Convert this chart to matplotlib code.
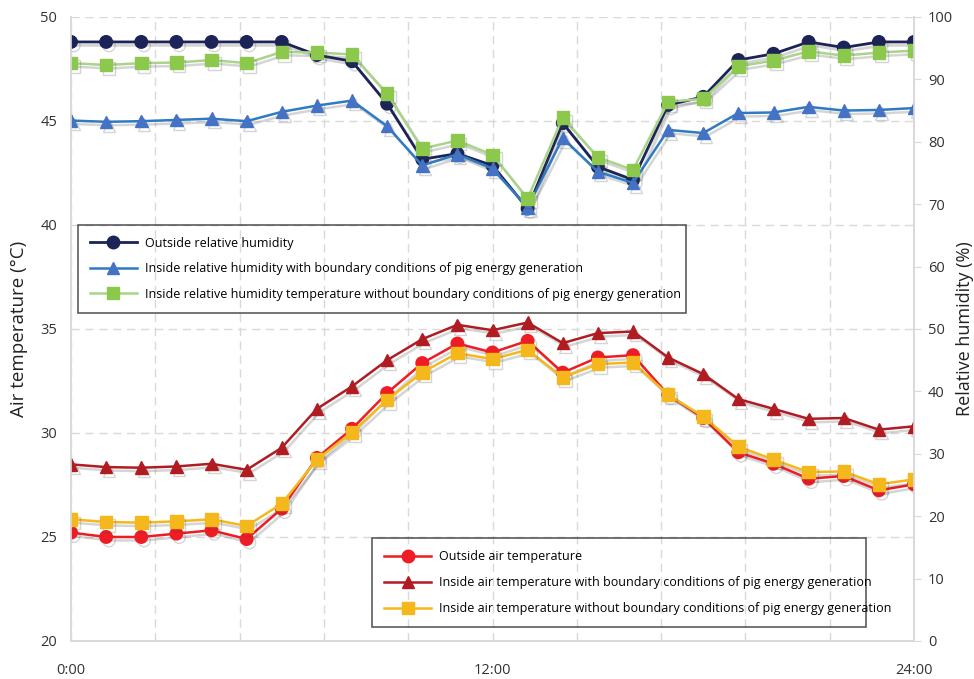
import numpy as np
import matplotlib
matplotlib.use("Agg")
import matplotlib.pyplot as plt
import matplotlib.patheffects as pe

plt.rcParams['font.family'] = ['Open Sans', 'DejaVu Sans']

# hourly readings over one day
hours = list(range(25))

rh_outside = [96.0, 96.0, 96.0, 96.0, 96.0, 96.0, 96.0, 93.9, 92.9, 86.1, 77.2, 78.1, 76.2,
              69.3, 83.0, 76.0, 73.9, 85.9, 87.2, 93.1, 94.1, 96.0, 95.1, 96.0, 96.0]
rh_inside_with = [83.4, 83.2, 83.3, 83.5, 83.7, 83.3, 84.8, 85.8, 86.6, 82.5, 76.2, 78.0, 75.7,
                  69.5, 80.6, 75.2, 73.4, 81.9, 81.4, 84.6, 84.7, 85.6, 85.0, 85.1, 85.4]
rh_inside_without = [92.6, 92.3, 92.6, 92.7, 93.1, 92.6, 94.4, 94.3, 94.0, 87.7, 78.9, 80.2, 77.9,
                     70.9, 83.9, 77.5, 75.5, 86.4, 86.9, 92.1, 93.0, 94.5, 93.8, 94.3, 94.6]

t_outside = [25.21, 25.0, 25.0, 25.16, 25.32, 24.9, 26.36, 28.8, 30.2, 31.92, 33.36, 34.3, 33.87,
             34.43, 32.9, 33.63, 33.74, 31.84, 30.72, 29.07, 28.52, 27.8, 27.93, 27.24, 27.53]
t_inside_with = [28.49, 28.36, 28.33, 28.39, 28.52, 28.23, 29.29, 31.16, 32.24, 33.5, 34.51, 35.2, 34.94,
                 35.31, 34.32, 34.8, 34.88, 33.63, 32.83, 31.63, 31.16, 30.68, 30.72, 30.16, 30.32]
t_inside_without = [25.85, 25.72, 25.69, 25.75, 25.85, 25.53, 26.6, 28.72, 30.03, 31.59, 32.91, 33.84, 33.55,
                    34.0, 32.67, 33.31, 33.39, 31.84, 30.79, 29.35, 28.72, 28.12, 28.15, 27.53, 27.77]

x_ticklabels = ['0:00', '12:00', '24:00']

grid_col = '#d9d9d9'
text_col = '#333333'

fig = plt.figure(figsize=(9.74, 6.79), dpi=100)
ax = fig.add_axes([0.0729, 0.056, 0.8655, 0.919])
ax2 = ax.twinx()

shadow = [pe.SimpleLineShadow(offset=(2, -2.5), shadow_color='#444444', alpha=0.22), pe.Normal()]

# temperature series on the left axis
ax.plot(hours, t_outside, color='#ee1c24', lw=1.8, marker='o', ms=9,
        label='Outside air temperature', path_effects=shadow, zorder=3)
ax.plot(hours, t_inside_with, color='#b01c22', lw=1.8, marker='^', ms=9,
        label='Inside air temperature with boundary conditions of pig energy generation',
        path_effects=shadow, zorder=3)
ax.plot(hours, t_inside_without, color='#f5b81c', lw=1.8, marker='s', ms=9,
        label='Inside air temperature without boundary conditions of pig energy generation',
        path_effects=shadow, zorder=3)

# humidity series on the right axis
ax2.plot(hours, rh_outside, color='#1b2357', lw=2.0, marker='o', ms=9,
         label='Outside relative humidity', path_effects=shadow)
ax2.plot(hours, rh_inside_with, color='#2e7bc4', markerfacecolor='#4472c4', markeredgecolor='#4472c4',
         lw=1.8, marker='^', ms=9,
         label='Inside relative humidity with boundary conditions of pig energy generation',
         path_effects=shadow)
ax2.plot(hours, rh_inside_without, color='#a9d48a', markerfacecolor='#8cc84b', markeredgecolor='#8cc84b',
         lw=1.8, marker='s', ms=9,
         label='Inside relative humidity temperature without boundary conditions of pig energy generation',
         path_effects=shadow)

ax.set_xlim(0, 24)
ax.set_ylim(20, 50)
ax2.set_ylim(0, 100)

ax.set_xticks(np.arange(0, 24.01, 2.4), minor=True)
ax.set_xticks([0, 12, 24])
ax.set_xticklabels(x_ticklabels)
ax.set_yticks(range(20, 51, 5))
ax2.set_yticks(range(0, 101, 10))

ax.grid(True, which='both', axis='x', color=grid_col, ls=(0, (6, 4)), lw=1)
ax.grid(True, which='major', axis='y', color=grid_col, ls=(0, (6, 4)), lw=1)
ax.set_axisbelow(True)

for a in (ax, ax2):
    for s in a.spines.values():
        s.set_color(grid_col)
        s.set_linewidth(1.2)
    a.spines['top'].set_visible(False)
ax.tick_params(axis='x', which='both', length=0, pad=16, labelsize=10.5, labelcolor=text_col)
ax.tick_params(axis='y', length=0, pad=10, labelsize=10.5, labelcolor=text_col)
ax2.tick_params(axis='y', length=5, color=grid_col, pad=5, labelsize=10.5, labelcolor=text_col)

ax.set_ylabel('Air temperature (°C)', fontsize=13.5, color='#222222', labelpad=9)
ax2.set_ylabel('Relative humidity (%)', fontsize=13, color='#222222', labelpad=2)


def boxed_legend(a, anchor, spacing):
    leg = a.legend(loc='upper left', bbox_to_anchor=anchor, mode='expand',
                   fontsize=9, frameon=True, fancybox=False, edgecolor='#333333',
                   handlelength=3.8, labelspacing=spacing, borderpad=0.95, handletextpad=0.65,
                   borderaxespad=0)
    frame = leg.get_frame()
    frame.set_facecolor('none')
    frame.set_linewidth(1.2)
    for h in leg.get_lines():
        h.set_path_effects([])
    return leg


boxed_legend(ax2, (0.008, 0.527, 0.721, 0.14), 1.0)
boxed_legend(ax, (0.357, 0.027, 0.586, 0.138), 1.05)

fig.savefig('out.png', dpi=100, facecolor='white')
